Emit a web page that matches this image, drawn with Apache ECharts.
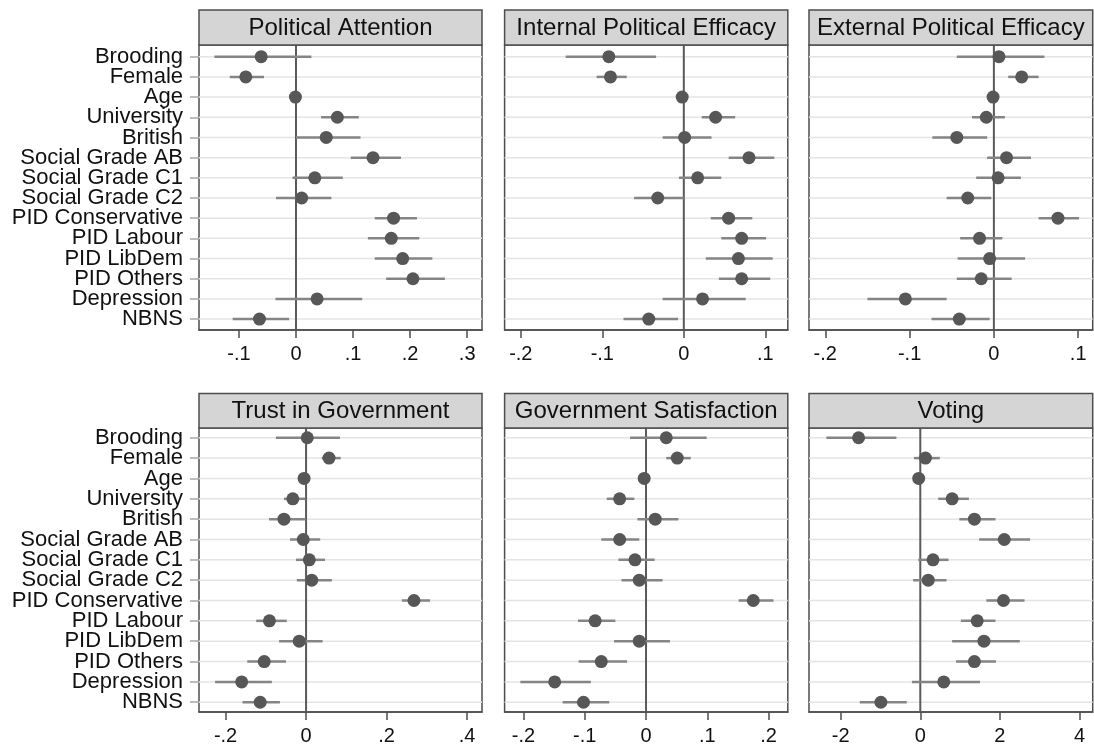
<!DOCTYPE html>
<html><head><meta charset="utf-8">
<script src="https://cdn.jsdelivr.net/npm/echarts@6/dist/echarts.min.js"></script>
<style>html,body{margin:0;padding:0;background:#fff}#c{width:1094px;height:751px}</style>
</head><body><div id="c"></div>
<script>
const categories = ['Brooding','Female','Age','University','British','Social Grade AB','Social Grade C1','Social Grade C2','PID Conservative','PID Labour','PID LibDem','PID Others','Depression','NBNS'];
const panelTitles = ['Political Attention','Internal Political Efficacy','External Political Efficacy','Trust in Government','Government Satisfaction','Voting'];

const attentionEst = [-0.061,-0.088,-0.001,0.0725,0.053,0.135,0.033,0.010,0.171,0.167,0.187,0.205,0.037,-0.064];
const attentionLo  = [-0.143,-0.116,-0.004,0.044,0.0,0.096,-0.006,-0.035,0.138,0.126,0.138,0.158,-0.036,-0.111];
const attentionHi  = [0.027,-0.056,0.002,0.110,0.113,0.184,0.082,0.062,0.212,0.216,0.239,0.261,0.116,-0.012];

const internalEst = [-0.092,-0.090,-0.002,0.039,0.001,0.080,0.017,-0.032,0.055,0.071,0.067,0.071,0.023,-0.043];
const internalLo  = [-0.145,-0.107,-0.004,0.022,-0.026,0.055,-0.006,-0.061,0.033,0.046,0.027,0.043,-0.026,-0.074];
const internalHi  = [-0.034,-0.070,0.000,0.063,0.034,0.111,0.046,0.000,0.084,0.101,0.109,0.106,0.076,-0.007];

const externalEst = [0.006,0.033,-0.001,-0.009,-0.044,0.015,0.005,-0.031,0.076,-0.017,-0.005,-0.015,-0.105,-0.041];
const externalLo  = [-0.044,0.017,-0.003,-0.026,-0.073,-0.008,-0.021,-0.056,0.053,-0.040,-0.043,-0.044,-0.150,-0.074];
const externalHi  = [0.060,0.053,0.001,0.013,-0.008,0.044,0.032,-0.003,0.101,0.010,0.037,0.021,-0.056,-0.005];

const trustEst = [0.003,0.057,-0.005,-0.033,-0.055,-0.007,0.008,0.014,0.268,-0.091,-0.017,-0.104,-0.160,-0.114];
const trustLo  = [-0.075,0.039,-0.008,-0.055,-0.092,-0.040,-0.025,-0.023,0.238,-0.124,-0.067,-0.146,-0.226,-0.158];
const trustHi  = [0.084,0.086,-0.002,-0.002,-0.001,0.035,0.047,0.064,0.308,-0.048,0.041,-0.050,-0.085,-0.065];

const satisfactionEst = [0.033,0.051,-0.003,-0.043,0.015,-0.043,-0.018,-0.011,0.175,-0.083,-0.011,-0.073,-0.149,-0.102];
const satisfactionLo  = [-0.026,0.033,-0.005,-0.064,-0.014,-0.073,-0.045,-0.040,0.151,-0.111,-0.052,-0.110,-0.205,-0.136];
const satisfactionHi  = [0.099,0.073,-0.001,-0.019,0.053,-0.011,0.014,0.027,0.208,-0.050,0.039,-0.031,-0.090,-0.060];

const votingEst = [-1.55,0.13,-0.04,0.80,1.36,2.11,0.32,0.20,2.09,1.43,1.60,1.36,0.59,-0.99];
const votingLo  = [-2.36,-0.16,-0.08,0.45,0.98,1.48,-0.05,-0.18,1.66,1.02,0.80,0.90,-0.21,-1.52];
const votingHi  = [-0.60,0.49,0.00,1.22,1.89,2.76,0.71,0.66,2.62,1.89,2.50,1.90,1.50,-0.34];

const attentionTicks = [-0.1,0,0.1,0.2,0.3];
const internalTicks = [-0.2,-0.1,0,0.1];
const externalTicks = [-0.2,-0.1,0,0.1];
const trustTicks = [-0.2,0,0.2,0.4];
const satisfactionTicks = [-0.2,-0.1,0,0.1,0.2];
const votingTicks = [-2,0,2,4];

const panels = [
  {est: attentionEst, lo: attentionLo, hi: attentionHi, ticks: attentionTicks, min: -0.170, max: 0.326},
  {est: internalEst, lo: internalLo, hi: internalHi, ticks: internalTicks, min: -0.2199, max: 0.1276},
  {est: externalEst, lo: externalLo, hi: externalHi, ticks: externalTicks, min: -0.2193, max: 0.1172},
  {est: trustEst, lo: trustLo, hi: trustHi, ticks: trustTicks, min: -0.266, max: 0.437},
  {est: satisfactionEst, lo: satisfactionLo, hi: satisfactionHi, ticks: satisfactionTicks, min: -0.2307, max: 0.2313},
  {est: votingEst, lo: votingLo, hi: votingHi, ticks: votingTicks, min: -2.796, max: 4.332}
];

// layout
const colLeft = [199, 504.6, 809];
const colWidth = [283, 283.2, 283.7];
const rowLayout = [
  {hTop: 10, top: 45, bottom: 330, ymin: -0.58, ymax: 13.54},
  {hTop: 393.5, top: 428, bottom: 712, ymin: -0.48, ymax: 13.48}
];
const FONT = '"Liberation Sans", Arial, Helvetica, sans-serif';
const rowIdx = categories.map((c, i) => i);

function fmtTick(v) {
  const r = Math.round(v * 1000) / 1000;
  if (r === 0) return '0';
  let s = String(r);
  s = s.replace('0.', '.');
  return s;
}

const grids = [], xAxes = [], yAxes = [], series = [], graphics = [];
panels.forEach((p, i) => {
  const col = i % 3, row = Math.floor(i / 3);
  const L = colLeft[col], W = colWidth[col], R = rowLayout[row];
  grids.push({left: L, top: R.top, width: W, height: R.bottom - R.top, show: true,
    borderColor: '#4d4d4d', borderWidth: 1.5, backgroundColor: '#fff', containLabel: false});
  xAxes.push({gridIndex: i, type: 'value', min: p.min, max: p.max, position: 'bottom',
    axisLine: {show: true, onZero: false, lineStyle: {color: '#4d4d4d', width: 1.5}},
    axisTick: {show: true, length: 8, customValues: p.ticks, lineStyle: {color: '#4d4d4d', width: 1.5}},
    axisLabel: {customValues: p.ticks, formatter: fmtTick, fontSize: 20, color: '#111', margin: 14, fontFamily: FONT,
      showMinLabel: true, showMaxLabel: true, hideOverlap: false},
    splitLine: {show: false}});
  yAxes.push({gridIndex: i, type: 'value', inverse: true, min: R.ymin, max: R.ymax, position: 'left',
    axisLine: {show: false, onZero: false}, axisTick: {show: false}, axisLabel: {show: false},
    splitLine: {show: false}});
  // grid lines at each row
  series.push({type: 'custom', xAxisIndex: i, yAxisIndex: i, silent: true, z: 1,
    data: rowIdx.map(k => [0, k]),
    renderItem: (params, api) => {
      const y = api.coord([0, api.value(1)])[1];
      const cs = params.coordSys;
      return {type: 'line', shape: {x1: cs.x, y1: y, x2: cs.x + cs.width, y2: y},
        style: {stroke: '#e4e4e4', lineWidth: 1.5}};
    }});
  // zero line
  series.push({type: 'custom', xAxisIndex: i, yAxisIndex: i, silent: true, z: 2,
    data: [[0, 0]],
    renderItem: (params, api) => {
      const x = api.coord([api.value(0), 0])[0];
      const cs = params.coordSys;
      return {type: 'line', shape: {x1: x, y1: cs.y, x2: x, y2: cs.y + cs.height},
        style: {stroke: '#5a5a5a', lineWidth: 2}};
    }});
  // confidence intervals
  series.push({type: 'custom', xAxisIndex: i, yAxisIndex: i, silent: true, z: 3,
    encode: {x: [0, 1], y: 2},
    data: rowIdx.map(k => [p.lo[k], p.hi[k], k]),
    renderItem: (params, api) => {
      const a = api.coord([api.value(0), api.value(2)]);
      const b = api.coord([api.value(1), api.value(2)]);
      return {type: 'line', shape: {x1: a[0], y1: a[1], x2: b[0], y2: b[1]},
        style: {stroke: '#858585', lineWidth: 2.5}};
    }});
  // point estimates
  series.push({type: 'scatter', xAxisIndex: i, yAxisIndex: i, silent: true, z: 4,
    symbol: 'circle', symbolSize: 13, itemStyle: {color: '#575757', opacity: 1},
    data: rowIdx.map(k => [p.est[k], k])});
  // header strip
  graphics.push({type: 'rect', shape: {x: L, y: R.hTop, width: W, height: R.top - R.hTop},
    style: {fill: '#d5d5d5', stroke: '#4d4d4d', lineWidth: 1.5}, z: 10});
  graphics.push({type: 'text', x: L + W / 2, y: R.hTop + (R.top - R.hTop) / 2 + 1, z: 11,
    style: {text: panelTitles[i], fontSize: 24, fontFamily: FONT, fill: '#111',
      textAlign: 'center', textVerticalAlign: 'middle'}});
});

// category label axes for the left column (one per row), aligned with the value rows
rowLayout.forEach((R, r) => {
  const step = (R.bottom - R.top) / (R.ymax - R.ymin);
  const first = R.top + (0 - R.ymin) * step;
  const gi = grids.length;
  grids.push({left: colLeft[0], width: colWidth[0], top: first - step / 2, height: step * categories.length, show: false});
  xAxes.push({gridIndex: gi, type: 'value', show: false, min: 0, max: 1});
  yAxes.push({gridIndex: gi, type: 'category', inverse: true, data: categories, position: 'left',
    axisLine: {show: false},
    axisTick: {show: true, alignWithLabel: true, interval: 0, length: 9, lineStyle: {color: '#a8a8a8', width: 1.5}},
    axisLabel: {show: true, interval: 0, fontSize: 22, color: '#111', margin: 16, fontFamily: FONT},
    splitLine: {show: false}});
});

const chart = echarts.init(document.getElementById('c'), null, {renderer: 'canvas'});
chart.setOption({
  animation: false,
  backgroundColor: '#fff',
  grid: grids, xAxis: xAxes, yAxis: yAxes, series: series,
  graphic: graphics
});
</script></body></html>
